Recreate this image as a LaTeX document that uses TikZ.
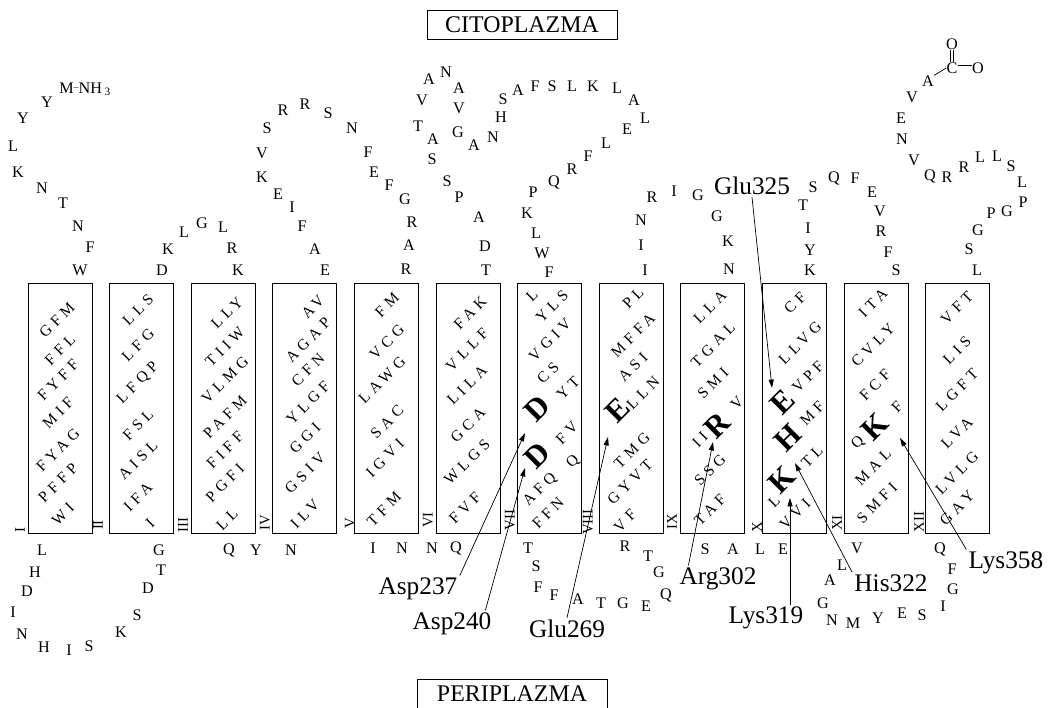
\documentclass[tikz,border=0pt]{standalone}
\usepackage{fontspec}
\setmainfont{Liberation Serif}
\newfontfamily\helixfont[LetterSpace=30]{Liberation Serif}
\usetikzlibrary{arrows.meta}

\tikzset{
  aa/.style={inner sep=0pt,font=\fontsize{11.5}{12}\selectfont},
  hx/.style={inner sep=0pt,rotate=45,font=\helixfont\fontsize{11}{12}\selectfont},
  big/.style={inner sep=0pt,rotate=45,font=\fontsize{22}{22}\selectfont\bfseries},
  rn/.style={inner sep=0pt,rotate=90,font=\fontsize{10.5}{11}\selectfont},
  lab/.style={inner sep=1.5pt,font=\fontsize{18}{20}\selectfont},
  comp/.style={draw,line width=0.6pt,inner sep=0pt,minimum width=135pt,minimum height=20.5pt,font=\fontsize{17}{19}\selectfont},
  arr/.style={-{Triangle[length=6pt,width=3.6pt]},line width=0.5pt}
}

\begin{document}
\begin{tikzpicture}[x=0.025cm,y=-0.025cm]
  \useasboundingbox (0,0) rectangle (1052,708);
  \node[comp] (cito) at (522,25) {CITOPLAZMA};
  \node[comp] (peri) at (512,694) {PERIPLAZMA};
  \foreach \i in {0,...,11} \draw[line width=0.6pt] (28+81.6*\i,283) rectangle ++(64,250);
  \foreach \p/\x/\y [count=\i] in {I/20/530,II/98/525,III/183/525,IV/265/523,V/350/523,VI/428/520,VII/510/520,VIII/588/522,IX/672/522,X/757/527,XI/837/523,XII/919/522}
    \node[rn] (tm\i) at (\x,\y) {\p};

  \node[aa,anchor=west] (nh3) at (59,89) {M\raisebox{2pt}{\scriptsize--}NH\,\raisebox{-1.5pt}{\footnotesize 3}};
  \foreach \p/\x/\y [count=\i] in {Y/47/102,Y/23/118,L/13/146,K/18/172,N/42/188,T/63/203,N/78/226,F/90/247,W/80/270}
    \node[aa] (nt\i) at (\x,\y) {\p};
  \foreach \p/\x/\y [count=\i] in {L/42/550,H/35/572,D/27/591,I/13/612,N/22/634,H/44/647,I/69/650,S/89/646,K/121/632,S/137/615,D/148/588,T/161/570,G/159/550}
    \node[aa] (pa\i) at (\x,\y) {\p};
  \foreach \p/\x/\y [count=\i] in {D/162/270,K/168/249,L/184/232,G/202/223,L/223/227,R/232/248,K/238/270}
    \node[aa] (ca\i) at (\x,\y) {\p};
  \foreach \p/\x/\y [count=\i] in {Q/229/550,Y/256/550,N/291/550}
    \node[aa] (pb\i) at (\x,\y) {\p};
  \foreach \p/\x/\y [count=\i] in {E/325/270,A/315/249,F/302/226,I/292/207,E/278/194,K/262/177,V/262/153,S/267/128,R/283/110,R/305/104,S/328/113,N/352/128,F/368/152,E/374/172,F/389/185,G/405/199,R/412/222,A/409/245,R/406/269}
    \node[aa] (cb\i) at (\x,\y) {\p};
  \foreach \p/\x/\y [count=\i] in {I/373/548,N/402/548,N/432/548,Q/456/548}
    \node[aa] (pc\i) at (\x,\y) {\p};
  \foreach \p/\x/\y [count=\i] in {T/486/270,D/485/246,A/479/217,P/459/197,S/447/181,S/432/159,A/433/139,T/418/126,V/422/100,A/429/79,N/446/72,A/459/88,V/459/108,G/458/132,A/474/145,N/493/137,H/501/117,S/503/99,A/518/90,F/535/86,S/552/86,L/572/86,K/593/86,L/617/88,A/634/100,L/645/118,E/627/129,L/606/143,F/588/156,R/572/169,Q/554/182,P/533/192,K/527/213,L/536/233,W/542/253,F/549/272}
    \node[aa] (cc\i) at (\x,\y) {\p};
  \foreach \p/\x/\y [count=\i] in {T/528/548,S/536/566,F/538/587,F/554/595,A/578/599,T/601/603,G/623/603,E/646/606,Q/666/595,G/659/572,T/648/556,R/625/546}
    \node[aa] (pd\i) at (\x,\y) {\p};
  \foreach \p/\x/\y [count=\i] in {I/645/270,I/641/245,N/641/220,R/652/197,I/674/191,G/698/195,G/717/216,K/728/241,N/729/269}
    \node[aa] (cd\i) at (\x,\y) {\p};
  \foreach \p/\x/\y [count=\i] in {S/705/549,A/733/549,L/760/549,E/783/549}
    \node[aa] (pe\i) at (\x,\y) {\p};
  \foreach \p/\x/\y [count=\i] in {K/810/270,Y/810/250,I/808/228,T/803/205,S/813/187,Q/834/178,F/855/178,E/872/192,V/880/211,R/881/231,F/888/252,S/896/270}
    \node[aa] (ce\i) at (\x,\y) {\p};
  \foreach \p/\x/\y [count=\i] in {V/857/548,L/842/565,A/830/580,G/823/603,N/832/620,M/853/623,Y/878/618,E/902/613,S/922/615,I/943/606,G/953/589,F/952/569,Q/940/549}
    \node[aa] (pf\i) at (\x,\y) {\p};
  \foreach \p/\x/\y [count=\i] in {L/977/270,S/969/249,G/978/230,P/991/213,G/1007/211,P/1023/202,L/1022/182,S/1011/166,L/997/156,L/980/157,R/964/167,R/947/177,Q/930/176,V/914/160,N/902/139,E/901/118,V/912/97}
    \node[aa] (ct\i) at (\x,\y) {\p};
  \node[aa] (cta) at (928,81) {A};
  \node[aa] (ctc) at (952,68) {C};
  \node[aa] (cto) at (978,68) {O};
  \node[aa] (cto2) at (952,44) {O};
  \draw[line width=0.5pt] (cta.north east) -- (ctc.west);
  \draw[line width=0.5pt] ([yshift=2pt]ctc.east) -- ([yshift=2pt]cto.west);
  \draw[line width=0.5pt] ([xshift=-1.2pt]ctc.north) -- ([xshift=-1.2pt]cto2.south) ([xshift=1.2pt]ctc.north) -- ([xshift=1.2pt]cto2.south);

  \foreach \p/\x/\y [count=\i] in {GFM/57/320,FFL/60/350,FYFF/58/380,MIF/58/413,FYAG/58/450,PFFP/58/483,WI/63/514,
    LLS/138/310,LFG/138/345,LFQP/138/383,FSL/138/425,AISL/138/460,IFA/138/497,I/150/523,
    LLY/227/313,TIIW/225/347,VLMG/225/380,PAFM/225/417,FIFF/225/450,PGFI/225/483,LL/227/520,
    AV/313/307,AGAP/308/340,CFN/308/370,YLGF/308/403,GGI/305/438,GSIV/305/473,ILV/305/514,
    FM/387/305,VCG/387/342,LAWG/382/380,SAC/387/422,IGVI/385/458,TFM/384/509,
    FAK/470/313,VLLF/467/350,LILA/467/385,GCA/468/425,WLGS/467/462,FVF/465/508,
    L/532/296,YLS/552/306,VGIV/550/340,CS/548/373,YT/568/388,FV/567/433,Q/573/462,AFQ/540/490,FFN/548/513,
    PL/633/298,MFFA/633/335,ASI/633/367,LLN/643/393,TMG/632/450,GYVT/630/482,VF/625/521,
    LLA/710/307,TGAL/713/345,SMI/713/383,II/700/440,V/737/403,SSG/710/470,TAF/710/510,
    CF/795/303,LLVG/800/343,VPF/808/377,MF/812/413,TL/812/457,L/774/502,VVI/795/514,
    ITA/873/303,CVLY/873/345,FCF/875/385,Q/858/443,F/897/407,MAL/873/467,SMFI/877/503,
    VFT/957/308,LIS/957/350,LGFT/957/390,LVA/957/433,LVLG/957/473,GAY/957/508}
    \node[hx] (hx\i) at (\x,\y) {\p};
  \foreach \p/\n/\x/\y in {D/d237/537/408,D/d240/537/455,E/e269/618/410,R/r302/717/425,E/e325/783/402,H/h322/788/438,K/k319/782/480,K/k358/875/427}
    \node[big] (\n) at (\x,\y) {\p};

  \coordinate (tA237) at (525,433); \coordinate (tA240) at (525,468); \coordinate (tG269) at (608,437);
  \coordinate (tR302) at (713,442); \coordinate (tE325) at (772,388); \coordinate (tK319) at (790,498);
  \coordinate (tH322) at (795,463); \coordinate (tK358) at (900,438);
  \node[lab] (asp237) at (418,589) {Asp237};
  \node[lab] (asp240) at (452,624) {Asp240};
  \node[lab] (glu269) at (567,629) {Glu269};
  \node[lab] (arg302) at (718,579) {Arg302};
  \node[lab] (lys319) at (766,618) {Lys319};
  \node[lab] (his322) at (891,583) {His322};
  \node[lab] (lys358) at (1006,563) {Lys358};
  \node[lab] (glu325) at (752,186) {Glu325};
  \draw[arr] (asp237.north east) -- (tA237);
  \draw[arr] ([xshift=-6pt]asp240.north east) -- (tA240);
  \draw[arr] (glu269.north) -- (tG269);
  \draw[arr] ([xshift=8pt]arg302.north west) -- (tR302);
  \draw[arr] (tK319 |- lys319.north) -- (tK319);
  \draw[arr] (his322.north west) -- (tH322);
  \draw[arr] (lys358.north west) -- (tK358);
  \draw[arr] (glu325.south) -- (tE325);
\end{tikzpicture}
\end{document}
